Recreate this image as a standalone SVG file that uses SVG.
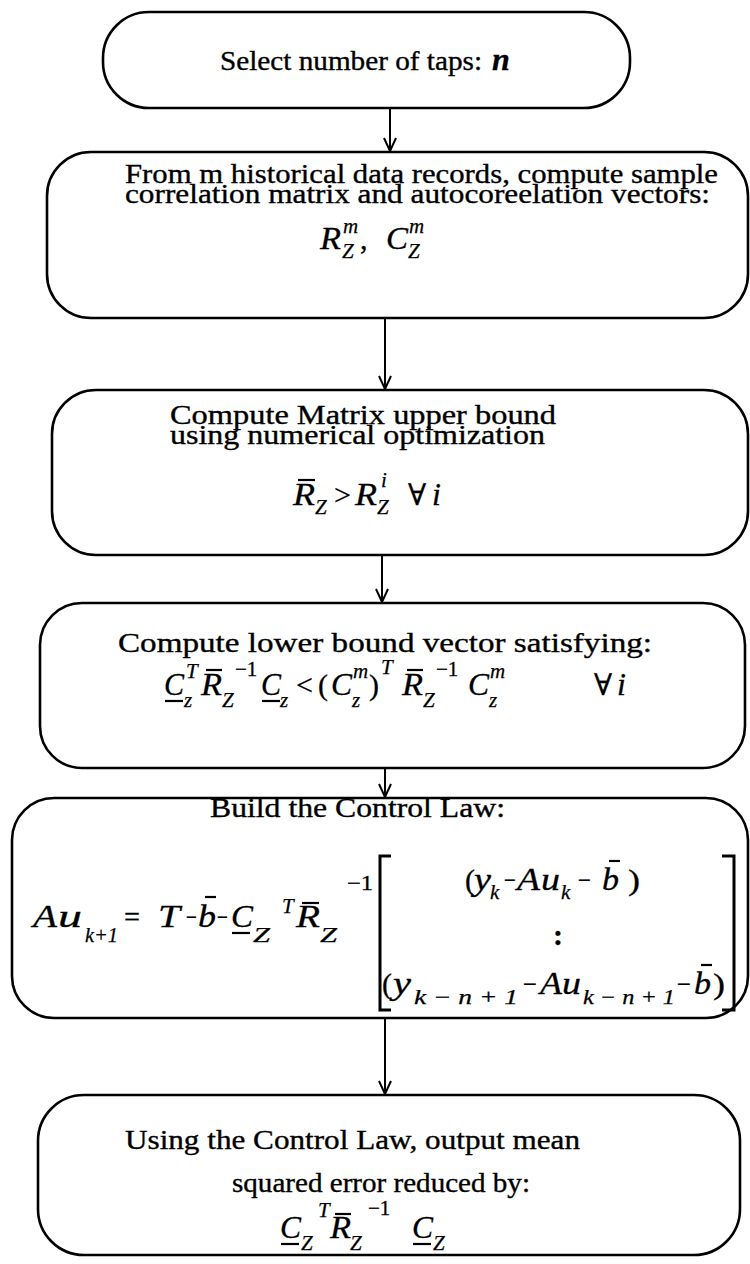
<svg xmlns="http://www.w3.org/2000/svg" width="750" height="1264" viewBox="0 0 750 1264">
<defs>
<marker id="ah" markerUnits="userSpaceOnUse" markerWidth="16" markerHeight="16" refX="14" refY="8" orient="auto" viewBox="0 0 16 16">
<path d="M1,2 L14,8 L1,14" fill="none" stroke="#000" stroke-width="2"/>
</marker>
</defs>
<style>
.box{fill:none;stroke:#000;stroke-width:2.6}
.t{font-family:"Times New Roman","Liberation Serif",Times,serif;font-size:27px;fill:#000;stroke:#000;stroke-width:0.35}
.m{font-family:"Times New Roman","Liberation Serif",Times,serif;font-style:italic;font-size:32px;fill:#000;stroke:#000;stroke-width:0.3}
.s{font-family:"Times New Roman","Liberation Serif",Times,serif;font-style:italic;font-size:21px;fill:#000;stroke:#000;stroke-width:0.25}
.u{font-family:"Times New Roman","Liberation Serif","DejaVu Serif",serif;font-size:30px;fill:#000;stroke:#000;stroke-width:0.3}
.us{font-family:"Times New Roman","Liberation Serif",Times,serif;font-size:21px;fill:#000;stroke:#000;stroke-width:0.3}
.bar{stroke:#000;stroke-width:2.2;fill:none}
.br{stroke:#000;stroke-width:3;fill:none}
.conn line{stroke:#000;stroke-width:2;marker-end:url(#ah)}
</style>
<rect width="750" height="1264" fill="#fff"/>

<g id="node1">
<rect class="box" x="103" y="12" width="527" height="96" rx="46" ry="46"/>
<text class="t" x="220" y="70" textLength="262" lengthAdjust="spacingAndGlyphs">Select number of taps:</text>
<text class="m" x="492" y="70" font-size="27" font-weight="bold">n</text>
</g>

<g id="node2">
<rect class="box" x="47" y="152" width="701" height="166" rx="44" ry="44"/>
<text class="t" x="125" y="183" font-size="24" textLength="593" lengthAdjust="spacingAndGlyphs">From m historical data records, compute sample</text>
<text class="t" x="125" y="203" font-size="24" textLength="585" lengthAdjust="spacingAndGlyphs">correlation matrix and autocoreelation vectors:</text>
<text class="m" x="320" y="249" textLength="21" lengthAdjust="spacingAndGlyphs">R</text>
<text class="s" x="342" y="258">Z</text>
<text class="s" x="343" y="233">m</text>
<text class="u" x="360" y="249">,</text>
<text class="m" x="386" y="249" textLength="22" lengthAdjust="spacingAndGlyphs">C</text>
<text class="s" x="408" y="258">Z</text>
<text class="s" x="409" y="233">m</text>
</g>

<g id="node3">
<rect class="box" x="52" y="390" width="696" height="165" rx="44" ry="44"/>
<text class="t" x="170" y="424" font-size="24" textLength="386" lengthAdjust="spacingAndGlyphs">Compute Matrix upper bound</text>
<text class="t" x="170" y="444" font-size="24" textLength="375" lengthAdjust="spacingAndGlyphs">using numerical optimization</text>
<text class="m" x="293" y="505" textLength="22" lengthAdjust="spacingAndGlyphs">R</text>
<line class="bar" x1="298" y1="480" x2="315" y2="480"/>
<text class="s" x="315" y="514">Z</text>
<text class="u" x="334" y="505">&gt;</text>
<text class="m" x="355" y="505" textLength="22" lengthAdjust="spacingAndGlyphs">R</text>
<text class="s" x="377" y="514">Z</text>
<text class="s" x="381" y="487">i</text>
<text class="u" x="408" y="505">∀</text>
<text class="m" x="432" y="505">i</text>
</g>

<g id="node4">
<rect class="box" x="40" y="603" width="705" height="165" rx="42" ry="42"/>
<text class="t" x="118" y="652" textLength="534" lengthAdjust="spacingAndGlyphs">Compute lower bound vector satisfying:</text>
<text class="m" x="164" y="695" textLength="20" lengthAdjust="spacingAndGlyphs">C</text>
<line class="bar" x1="165" y1="701" x2="183" y2="701"/>
<text class="s" x="184" y="707">z</text>
<text class="s" x="186" y="678">T</text>
<text class="m" x="201" y="695" textLength="21" lengthAdjust="spacingAndGlyphs">R</text>
<line class="bar" x1="206" y1="670" x2="222" y2="670"/>
<text class="s" x="222" y="707">Z</text>
<text class="us" x="235" y="676">−1</text>
<text class="m" x="261" y="695" textLength="20" lengthAdjust="spacingAndGlyphs">C</text>
<line class="bar" x1="262" y1="701" x2="280" y2="701"/>
<text class="s" x="280" y="707">z</text>
<text class="u" x="296" y="695">&lt;</text>
<text class="u" x="318" y="695">(</text>
<text class="m" x="331" y="695" textLength="21" lengthAdjust="spacingAndGlyphs">C</text>
<text class="s" x="353" y="678">m</text>
<text class="s" x="352" y="707">z</text>
<text class="u" x="369" y="695">)</text>
<text class="s" x="381" y="674">T</text>
<text class="m" x="402" y="695" textLength="21" lengthAdjust="spacingAndGlyphs">R</text>
<line class="bar" x1="407" y1="670" x2="423" y2="670"/>
<text class="s" x="423" y="707">Z</text>
<text class="us" x="436" y="676">−1</text>
<text class="m" x="468" y="695" textLength="21" lengthAdjust="spacingAndGlyphs">C</text>
<text class="s" x="490" y="678">m</text>
<text class="s" x="489" y="707">z</text>
<text class="u" x="594" y="695">∀</text>
<text class="m" x="617" y="695">i</text>
</g>

<g id="node5">
<rect class="box" x="12" y="798" width="736" height="220" rx="42" ry="42"/>
<text class="t" x="210" y="817" textLength="295" lengthAdjust="spacingAndGlyphs">Build the Control Law:</text>
<text class="m" x="33" y="927" font-size="34" textLength="24" lengthAdjust="spacingAndGlyphs">A</text>
<text class="m" x="58" y="927" font-size="34" textLength="24" lengthAdjust="spacingAndGlyphs">u</text>
<text class="s" x="85" y="942" font-size="25" textLength="33" lengthAdjust="spacingAndGlyphs">k+1</text>
<text class="u" x="124" y="927" textLength="16" lengthAdjust="spacingAndGlyphs">=</text>
<text class="m" x="158" y="927" textLength="22" lengthAdjust="spacingAndGlyphs">T</text>
<text class="u" x="186" y="927" textLength="11" lengthAdjust="spacingAndGlyphs">−</text>
<text class="m" x="198" y="927" textLength="18" lengthAdjust="spacingAndGlyphs">b</text>
<line class="bar" x1="205" y1="897" x2="216" y2="897"/>
<text class="u" x="217" y="927" textLength="11" lengthAdjust="spacingAndGlyphs">−</text>
<text class="m" x="231" y="927" textLength="22" lengthAdjust="spacingAndGlyphs">C</text>
<line class="bar" x1="232" y1="933" x2="250" y2="933"/>
<text class="s" x="253" y="942" textLength="17" lengthAdjust="spacingAndGlyphs">Z</text>
<text class="s" x="282" y="913">T</text>
<text class="m" x="296" y="927" textLength="24" lengthAdjust="spacingAndGlyphs">R</text>
<line class="bar" x1="302" y1="903" x2="319" y2="903"/>
<text class="s" x="320" y="942" textLength="17" lengthAdjust="spacingAndGlyphs">Z</text>
<text class="us" x="347" y="890" textLength="26" lengthAdjust="spacingAndGlyphs">−1</text>
<path class="br" d="M391,856 L380,856 L380,1010 L391,1010"/>
<path class="br" d="M722,856 L734,856 L734,1010 L722,1010"/>
<text class="u" x="465" y="890" textLength="10" lengthAdjust="spacingAndGlyphs">(</text>
<text class="m" x="474" y="890" textLength="17" lengthAdjust="spacingAndGlyphs">y</text>
<text class="s" x="490" y="899">k</text>
<text class="u" x="504" y="890" textLength="12" lengthAdjust="spacingAndGlyphs">−</text>
<text class="m" x="517" y="890" textLength="23" lengthAdjust="spacingAndGlyphs">A</text>
<text class="m" x="541" y="890" textLength="19" lengthAdjust="spacingAndGlyphs">u</text>
<text class="s" x="561" y="899">k</text>
<text class="u" x="578" y="890" textLength="13" lengthAdjust="spacingAndGlyphs">−</text>
<text class="m" x="602" y="890" textLength="17" lengthAdjust="spacingAndGlyphs">b</text>
<line class="bar" x1="609" y1="861" x2="620" y2="861"/>
<text class="u" x="628" y="890" textLength="12" lengthAdjust="spacingAndGlyphs">)</text>
<text class="u" x="553" y="945" font-weight="bold">:</text>
<text class="u" x="382" y="994" textLength="10" lengthAdjust="spacingAndGlyphs">(</text>
<text class="m" x="393" y="994" textLength="18" lengthAdjust="spacingAndGlyphs">y</text>
<text class="s" x="414" y="1004" textLength="104" lengthAdjust="spacingAndGlyphs">k − n + 1</text>
<text class="u" x="523" y="994" textLength="14" lengthAdjust="spacingAndGlyphs">−</text>
<text class="m" x="540" y="994" textLength="22" lengthAdjust="spacingAndGlyphs">A</text>
<text class="m" x="562" y="994" textLength="19" lengthAdjust="spacingAndGlyphs">u</text>
<text class="s" x="583" y="1004" textLength="92" lengthAdjust="spacingAndGlyphs">k − n + 1</text>
<text class="u" x="677" y="994" textLength="14" lengthAdjust="spacingAndGlyphs">−</text>
<text class="m" x="694" y="994" textLength="17" lengthAdjust="spacingAndGlyphs">b</text>
<line class="bar" x1="701" y1="965" x2="712" y2="965"/>
<text class="u" x="713" y="994" textLength="12" lengthAdjust="spacingAndGlyphs">)</text>
</g>

<g id="node6">
<rect class="box" x="38" y="1095" width="702" height="160" rx="46" ry="46"/>
<text class="t" x="125" y="1149" textLength="455" lengthAdjust="spacingAndGlyphs">Using the Control Law, output mean</text>
<text class="t" x="232" y="1192" textLength="298" lengthAdjust="spacingAndGlyphs">squared error reduced by:</text>
<text class="m" x="280" y="1238" textLength="21" lengthAdjust="spacingAndGlyphs">C</text>
<line class="bar" x1="281" y1="1244" x2="299" y2="1244"/>
<text class="s" x="301" y="1250">Z</text>
<text class="s" x="318" y="1217">T</text>
<text class="m" x="330" y="1238" textLength="21" lengthAdjust="spacingAndGlyphs">R</text>
<line class="bar" x1="335" y1="1214" x2="351" y2="1214"/>
<text class="s" x="350" y="1250">Z</text>
<text class="us" x="368" y="1215">−1</text>
<text class="m" x="412" y="1238" textLength="21" lengthAdjust="spacingAndGlyphs">C</text>
<line class="bar" x1="413" y1="1244" x2="431" y2="1244"/>
<text class="s" x="433" y="1250">Z</text>
</g>

<g id="connectors" class="conn">
<line x1="390" y1="108" x2="390" y2="151"/>
<line x1="385" y1="318" x2="385" y2="389"/>
<line x1="382" y1="555" x2="382" y2="602"/>
<line x1="385" y1="768" x2="385" y2="797"/>
<line x1="385" y1="1018" x2="385" y2="1094"/>
</g>
</svg>
